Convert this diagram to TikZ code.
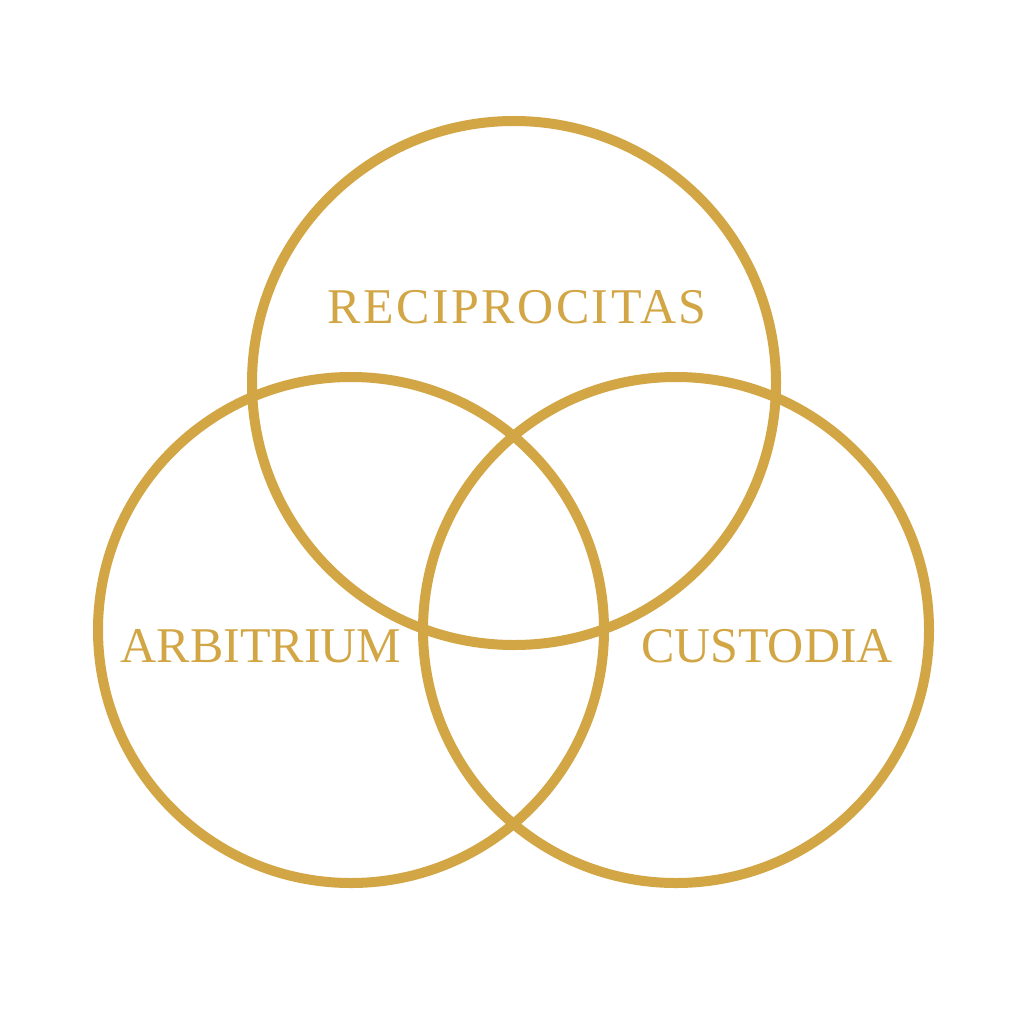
\documentclass[tikz,border=0pt]{standalone}
\usepackage{fontspec}
\setmainfont{Liberation Serif}
\definecolor{gold}{HTML}{D2A645}
\begin{document}
\begin{tikzpicture}[x=1pt,y=-1pt,
  ring/.style={draw=gold,line width=10pt},
  lbl/.style={text=gold,font=\fontsize{50}{50}\selectfont,anchor=base,inner sep=0pt}]
\useasboundingbox[fill=white] (0,0) rectangle (1024,1024);
\draw[ring] (514,383) circle[radius=262];
\draw[ring] (351,630) circle[radius=253];
\draw[ring] (676,630) circle[radius=253];
\node[lbl] (rec) at (517,323) {\addfontfeatures{LetterSpace=5}RECIPROCITAS};
\node[lbl] (arb) at (261,662) {ARBITRIUM};
\node[lbl] (cus) at (767,662) {CUSTODIA};
\end{tikzpicture}
\end{document}
